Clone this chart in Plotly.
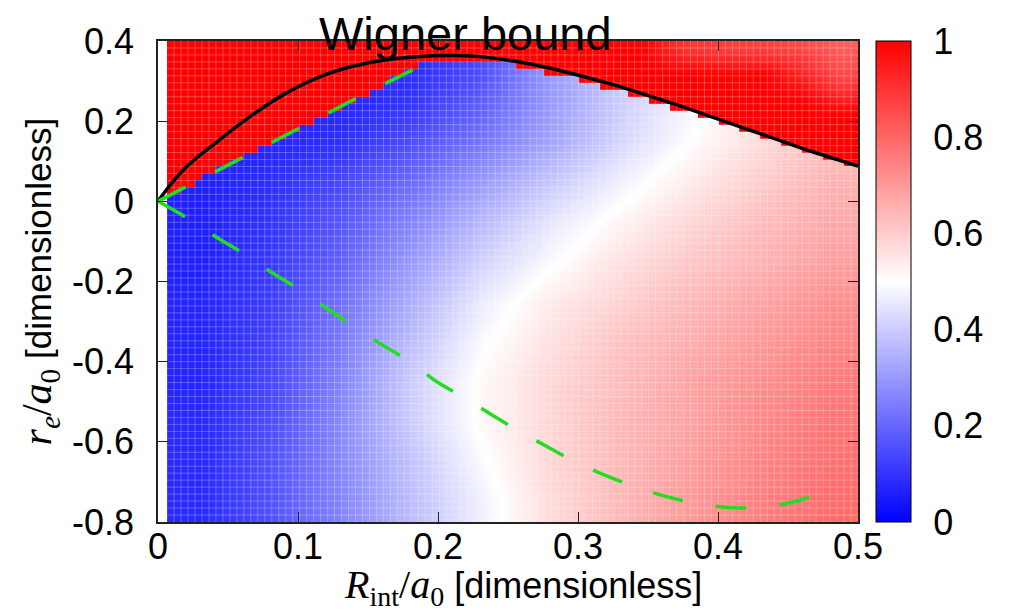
import numpy as np
import plotly.graph_objects as go

# ---------------- data ----------------
# smooth background field (cell centres, read values)
bg_x = [0.031, 0.08, 0.13, 0.18, 0.23, 0.28, 0.33, 0.38, 0.43, 0.48]
bg_y = [-0.75, -0.65, -0.55, -0.45, -0.35, -0.25, -0.15, -0.05, 0.05, 0.15, 0.25, 0.35]
bg_z = [
    [0.08, 0.16, 0.26, 0.37, 0.47, 0.57, 0.64, 0.70, 0.75, 0.79],
    [0.08, 0.16, 0.27, 0.38, 0.49, 0.58, 0.64, 0.69, 0.74, 0.78],
    [0.08, 0.15, 0.27, 0.40, 0.51, 0.58, 0.64, 0.68, 0.73, 0.77],
    [0.07, 0.14, 0.26, 0.40, 0.51, 0.58, 0.63, 0.68, 0.72, 0.76],
    [0.07, 0.13, 0.24, 0.37, 0.49, 0.56, 0.62, 0.66, 0.70, 0.74],
    [0.07, 0.12, 0.22, 0.34, 0.46, 0.54, 0.59, 0.64, 0.68, 0.72],
    [0.06, 0.11, 0.19, 0.30, 0.41, 0.49, 0.56, 0.61, 0.65, 0.69],
    [0.06, 0.10, 0.17, 0.26, 0.36, 0.45, 0.52, 0.58, 0.63, 0.67],
    [0.06, 0.09, 0.14, 0.21, 0.30, 0.39, 0.47, 0.54, 0.60, 0.65],
    [0.05, 0.07, 0.09, 0.15, 0.23, 0.32, 0.42, 0.50, 0.57, 0.63],
    [0.05, 0.06, 0.07, 0.10, 0.18, 0.30, 0.40, 0.48, 0.56, 0.62],
    [0.05, 0.06, 0.07, 0.08, 0.14, 0.30, 0.40, 0.48, 0.56, 0.62],
]

# top of the blue/white region (above it the value is 1)
bnd_x = [0.0065, 0.05, 0.10, 0.15, 0.19, 0.255, 0.26, 0.30, 0.35, 0.40, 0.45, 0.50]
bnd_y = [0.02, 0.10, 0.19, 0.28, 0.352, 0.352, 0.342, 0.312, 0.262, 0.208, 0.152, 0.092]
cell_x_edges = np.linspace(0.0065, 0.5, 100)
cell_y_edges = np.linspace(-0.8, 0.4, 70)
red_value = 1.0

# lighter patches inside the red region (top right)
pa_x = [0.345, 0.375, 0.405]
pa_y = [0.3167, 0.35, 0.3833]
pa_z = [[1.0, 1.0, 1.0],
        [1.0, 0.95, 0.93],
        [1.0, 0.90, 0.88]]
pb_x = [0.4333, 0.46, 0.4867]
pb_y = [0.2167, 0.25, 0.2833, 0.3167, 0.35, 0.3833]
pb_z = [[1.0, 1.0, 1.0],
        [1.0, 1.0, 0.95],
        [1.0, 0.97, 0.90],
        [1.0, 0.93, 0.86],
        [0.93, 0.90, 0.84],
        [0.88, 0.86, 0.82]]

# Wigner bound (black line)
wb_x = [0, 0.018, 0.042, 0.066, 0.089, 0.113, 0.137, 0.161, 0.185, 0.209, 0.23,
        0.254, 0.278, 0.301, 0.325, 0.349, 0.373, 0.396, 0.42, 0.444, 0.468, 0.5]
wb_y = [0.0, 0.078, 0.148, 0.212, 0.265, 0.307, 0.335, 0.352, 0.361, 0.364, 0.361,
        0.350, 0.334, 0.314, 0.291, 0.265, 0.238, 0.210, 0.181, 0.152, 0.123, 0.088]

# green dashed curves
g1_x = [0, 0.0636, 0.105, 0.146, 0.189]
g1_y = [0, 0.115, 0.19, 0.265, 0.34]
g2_x = [0, 0.021, 0.042, 0.061, 0.081, 0.1, 0.121, 0.139, 0.161, 0.179, 0.2, 0.219,
        0.241, 0.26, 0.281, 0.301, 0.324, 0.346, 0.369, 0.392, 0.416, 0.439, 0.462, 0.484]
g2_y = [0, -0.042, -0.09, -0.13, -0.177, -0.218, -0.268, -0.31, -0.36, -0.398, -0.452, -0.49,
        -0.538, -0.577, -0.618, -0.655, -0.69, -0.718, -0.742, -0.758, -0.765, -0.76, -0.742, -0.713]

x_ticks = [0, 0.1, 0.2, 0.3, 0.4, 0.5]
x_ticktext = ['0', '0.1', '0.2', '0.3', '0.4', '0.5']
y_ticks = [-0.8, -0.6, -0.4, -0.2, 0, 0.2, 0.4]
y_ticktext = ['-0.8', '-0.6', '-0.4', '-0.2', '0', '0.2', '0.4']
c_ticks = [0, 0.2, 0.4, 0.6, 0.8, 1]
c_ticktext = ['0', '0.2', '0.4', '0.6', '0.8', '1']

# ---------------- figure ----------------
cscale = [[0, 'rgb(0,0,255)'], [0.5, 'rgb(255,255,255)'], [1, 'rgb(255,0,0)']]
SANS = 'Liberation Sans, Arial, sans-serif'
SERIF = 'Liberation Serif, Times New Roman, serif'
TICK_SIZE = 36

W, H = 1001, 606            # page body has an 8 px margin
ML, MR, MT, MB = 150, 151, 33, 92
PW, PH = W - ML - MR, H - MT - MB
CB_X = 1 + 18 / PW
CB_T = 35

fig = go.Figure()
fig.add_trace(go.Heatmap(x=bg_x, y=bg_y, z=bg_z, zmin=0, zmax=1, colorscale=cscale,
                         zsmooth='best',
                         colorbar=dict(x=CB_X, xanchor='left', xpad=0, ypad=0,
                                       y=0.5, yanchor='middle', len=1, lenmode='fraction',
                                       thickness=CB_T, thicknessmode='pixels',
                                       outlinewidth=1, outlinecolor='black',
                                       tickvals=c_ticks, ticktext=c_ticktext,
                                       ticks='outside', ticklen=15, tickcolor='rgba(0,0,0,0)',
                                       tickfont=dict(family=SANS, size=TICK_SIZE, color='black')),
                         hoverinfo='skip'))

# red region on the cell grid
xc = 0.5 * (cell_x_edges[:-1] + cell_x_edges[1:])
ytop = cell_y_edges[1:]
btop = np.interp(xc, bnd_x, bnd_y)
red_z = np.where(ytop[:, None] > btop[None, :] + 1e-9, red_value, np.nan)
fig.add_trace(go.Heatmap(x=cell_x_edges, y=cell_y_edges, z=red_z, zmin=0, zmax=1,
                         colorscale=cscale, showscale=False, hoverinfo='skip'))
for px, py, pz in [(pa_x, pa_y, pa_z), (pb_x, pb_y, pb_z)]:
    fig.add_trace(go.Heatmap(x=px, y=py, z=pz, zmin=0, zmax=1, colorscale=cscale,
                             zsmooth='best', showscale=False, hoverinfo='skip'))

# faint cell grid
gx, gy = [], []
for xe in cell_x_edges[1:-1]:
    gx += [xe, xe, None]
    gy += [-0.8, 0.4, None]
for ye in cell_y_edges[1:-1]:
    gx += [cell_x_edges[0], 0.5, None]
    gy += [ye, ye, None]
fig.add_trace(go.Scatter(x=gx, y=gy, mode='lines', line=dict(color='rgba(255,255,255,0.25)', width=1),
                         hoverinfo='skip', showlegend=False))

fig.add_trace(go.Scatter(x=wb_x, y=wb_y, mode='lines', line=dict(color='black', width=3.5, shape='spline'),
                         showlegend=False))
for gxs, gys in [(g1_x, g1_y), (g2_x, g2_y)]:
    fig.add_trace(go.Scatter(x=gxs, y=gys, mode='lines',
                             line=dict(color='#22dd22', width=3.5, dash='31px,33px', shape='spline'),
                             showlegend=False))

# small inner tick marks of the colour bar (both sides)
tl = 8 / PW
for c in c_ticks[1:-1]:
    for xa, xb in [(CB_X, CB_X + tl), (CB_X + CB_T / PW - tl, CB_X + CB_T / PW)]:
        fig.add_shape(type='line', xref='paper', yref='paper', x0=xa, x1=xb, y0=c, y1=c,
                      line=dict(color='#333', width=1))

axis_common = dict(showgrid=False, zeroline=False, showline=True, linecolor='#222', linewidth=1.5,
                   mirror='ticks', ticks='inside', ticklen=10, tickcolor='#222',
                   tickfont=dict(family=SANS, size=TICK_SIZE, color='black'))
fig.update_xaxes(range=[0, 0.5], tickvals=x_ticks, ticktext=x_ticktext, ticklabelstandoff=-8, **axis_common)
fig.update_yaxes(range=[-0.8, 0.4], tickvals=y_ticks, ticktext=y_ticktext, ticklabelstandoff=15, **axis_common)

fig.add_annotation(text='Wigner bound', x=(465 - 158) / PW, y=1.0146, xref='paper', yref='paper',
                   xanchor='center', yanchor='middle', showarrow=False,
                   font=dict(family=SANS, size=47, color='black'))
fig.add_annotation(text=f'<span style="font-family:{SERIF};font-size:40px"><i>R</i><sub>int</sub>/<i>a</i><sub>0</sub></span> [dimensionless]',
                   x=0.522, y=-0.135, xref='paper', yref='paper', xanchor='center', yanchor='middle',
                   showarrow=False, font=dict(family=SANS, size=36, color='black'))
fig.add_annotation(text=f'<span style="font-family:{SERIF};font-size:42px"><i>r<sub>e</sub></i>/<i>a</i><sub>0</sub></span> [dimensionless]',
                   x=-0.1686, y=0.5, xref='paper', yref='paper', xanchor='center', yanchor='middle',
                   textangle=-90, showarrow=False, font=dict(family=SANS, size=35, color='black'))

fig.update_layout(width=W, height=H, margin=dict(l=ML, r=MR, t=MT, b=MB, autoexpand=False),
                  paper_bgcolor='white', plot_bgcolor='white', showlegend=False)
fig.write_html('out.html')
